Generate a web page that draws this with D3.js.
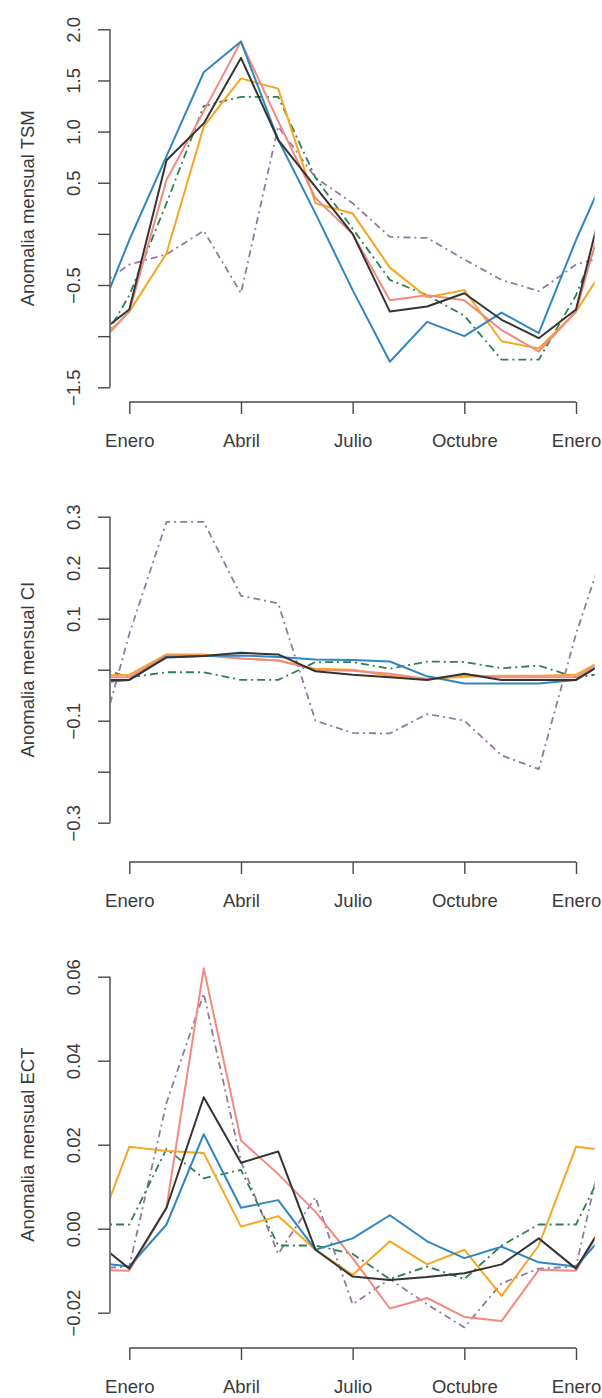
<!DOCTYPE html>
<html><head><meta charset="utf-8">
<script src="https://cdn.jsdelivr.net/npm/d3@7"></script>
<style>
html,body{margin:0;padding:0;background:#fff;}
svg text{font-family:"Liberation Sans",Arial,sans-serif;fill:#3a3a3a;}
</style></head>
<body><svg id="c" width="602" height="1398"></svg>
<script>
// months (x axis)
const monthTicks = [0, 3, 6, 9, 12];
const monthLabels = ["Enero", "Abril", "Julio", "Octubre", "Enero"];

// series names (Jan..Dec values, cyclic)
const seriesNames = ["purple", "green", "orange", "red", "blue", "black"];

// Panel 1: TSM
const tsmBlue   = [-0.06, 0.76, 1.58, 1.88, 0.92, 0.20, -0.55, -1.25, -0.86, -1.00, -0.77, -0.97];
const tsmRed    = [-0.76, 0.53, 1.20, 1.88, 1.10, 0.35, 0.00, -0.65, -0.60, -0.65, -0.94, -1.15];
const tsmOrange = [-0.76, -0.19, 1.05, 1.52, 1.42, 0.30, 0.20, -0.33, -0.62, -0.55, -1.05, -1.12];
const tsmBlack  = [-0.74, 0.72, 1.08, 1.72, 0.92, 0.46, 0.00, -0.76, -0.71, -0.58, -0.84, -1.02];
const tsmGreen  = [-0.60, 0.30, 1.25, 1.34, 1.34, 0.55, 0.05, -0.45, -0.60, -0.80, -1.23, -1.23];
const tsmPurple = [-0.30, -0.20, 0.03, -0.58, 1.05, 0.55, 0.30, -0.03, -0.04, -0.25, -0.45, -0.56];
const tsmTicks  = [-1.5, -1.0, -0.5, 0, 0.5, 1.0, 1.5, 2.0];
const tsmLabels = ["\u22121.5", "", "\u22120.5", "", "0.5", "1.0", "1.5", "2.0"];

// Panel 2: CI
const ciBlue   = [-0.020, 0.025, 0.027, 0.028, 0.025, 0.020, 0.019, 0.016, -0.013, -0.027, -0.027, -0.027];
const ciRed    = [-0.015, 0.028, 0.028, 0.022, 0.018, 0.000, -0.002, -0.008, -0.018, -0.010, -0.015, -0.015];
const ciOrange = [-0.010, 0.030, 0.030, 0.022, 0.018, 0.002, 0.000, -0.012, -0.018, -0.014, -0.012, -0.012];
const ciBlack  = [-0.020, 0.024, 0.027, 0.033, 0.030, -0.003, -0.010, -0.015, -0.020, -0.008, -0.020, -0.020];
const ciGreen  = [-0.015, -0.005, -0.005, -0.020, -0.020, 0.015, 0.015, 0.002, 0.016, 0.015, 0.003, 0.008];
const ciPurple = [0.070, 0.290, 0.290, 0.145, 0.130, -0.100, -0.124, -0.125, -0.087, -0.100, -0.168, -0.195];
const ciTicks  = [-0.3, -0.2, -0.1, 0, 0.1, 0.2, 0.3];
const ciLabels = ["\u22120.3", "", "\u22120.1", "", "0.1", "0.2", "0.3"];

// Panel 3: ECT
const ectBlue   = [-0.0090, 0.0010, 0.0225, 0.0050, 0.0068, -0.0050, -0.0023, 0.0032, -0.0030, -0.0070, -0.0043, -0.0080];
const ectRed    = [-0.0100, 0.0050, 0.0620, 0.0210, 0.0130, 0.0040, -0.0070, -0.0190, -0.0165, -0.0210, -0.0220, -0.0098];
const ectOrange = [0.0195, 0.0185, 0.0180, 0.0005, 0.0030, -0.0050, -0.0110, -0.0030, -0.0085, -0.0050, -0.0160, -0.0040];
const ectBlack  = [-0.0095, 0.0050, 0.0313, 0.0157, 0.0184, -0.0050, -0.0114, -0.0122, -0.0115, -0.0106, -0.0085, -0.0023];
const ectGreen  = [0.0010, 0.0190, 0.0120, 0.0140, -0.0040, -0.0040, -0.0060, -0.0120, -0.0090, -0.0120, -0.0040, 0.0010];
const ectPurple = [-0.0090, 0.0300, 0.0560, 0.0160, -0.0060, 0.0075, -0.0180, -0.0120, -0.0180, -0.0235, -0.0130, -0.0095];
const ectTicks  = [-0.02, 0, 0.02, 0.04, 0.06];
const ectLabels = ["\u22120.02", "0.00", "0.02", "0.04", "0.06"];

const titles = ["Anomalia mensual TSM", "Anomalia mensual CI", "Anomalia mensual ECT"];

// ---- styling / layout ----
const styles = {
  purple: {color: "#94789f", dash: "7,4,2,4", width: 1.8},
  green:  {color: "#2f7f52", dash: "2,4,8,4", width: 1.8},
  orange: {color: "#f5a623", dash: null, width: 2},
  red:    {color: "#f28a80", dash: null, width: 2},
  blue:   {color: "#2f86c0", dash: null, width: 2},
  black:  {color: "#343434", dash: null, width: 2}
};

const panels = [
  {data: {purple: tsmPurple, green: tsmGreen, orange: tsmOrange, red: tsmRed, blue: tsmBlue, black: tsmBlack},
   ticks: tsmTicks, labels: tsmLabels, yPix: [387.3, 29.3], axisY: 402, top: 0},
  {data: {purple: ciPurple, green: ciGreen, orange: ciOrange, red: ciRed, blue: ciBlue, black: ciBlack},
   ticks: ciTicks, labels: ciLabels, yPix: [822.7, 516.7], axisY: 862, top: 470},
  {data: {purple: ectPurple, green: ectGreen, orange: ectOrange, red: ectRed, blue: ectBlue, black: ectBlack},
   ticks: ectTicks, labels: ectLabels, yPix: [1312.7, 976.7], axisY: 1348, top: 935}
];

const svg = d3.select("#c");
const x = d3.scaleLinear().domain([0, 12]).range([129.3, 576]);
const leftX = x(-0.5), rightX = x(12.5);
const axisX = 110;
const tickLen = 12;
const fontSize = 18.5;
const axisColor = "#474747";

// extend cyclic monthly values: Dec(prev), Jan..Dec, Jan, Feb
function extend(vals) {
  const pts = [{m: -1, v: vals[11]}];
  vals.forEach((v, i) => pts.push({m: i, v: v}));
  pts.push({m: 12, v: vals[0]});
  pts.push({m: 13, v: vals[1]});
  return pts;
}

panels.forEach((p, pi) => {
  const lo = p.ticks[0], hi = p.ticks[p.ticks.length - 1];
  const y = d3.scaleLinear().domain([lo, hi]).range(p.yPix);
  const g = svg.append("g");

  const clipId = "clip" + pi;
  svg.append("clipPath").attr("id", clipId).append("rect")
    .attr("x", leftX).attr("y", p.top).attr("width", rightX - leftX).attr("height", p.axisY - p.top);

  const line = d3.line().x(d => x(d.m)).y(d => y(d.v));
  const lg = g.append("g").attr("clip-path", `url(#${clipId})`);
  seriesNames.forEach(name => {
    const st = styles[name];
    lg.append("path")
      .datum(extend(p.data[name]))
      .attr("d", line)
      .attr("fill", "none")
      .attr("stroke", st.color)
      .attr("stroke-width", st.width)
      .attr("stroke-linejoin", "round")
      .attr("stroke-dasharray", st.dash);
  });

  // y axis
  const yAxis = d3.axisLeft(y).tickValues(p.ticks).tickSize(tickLen).tickSizeOuter(0)
    .tickFormat((d, i) => p.labels[i]);
  const ya = g.append("g").attr("transform", `translate(${axisX},0)`).call(yAxis);
  ya.select(".domain").attr("stroke", axisColor).attr("stroke-width", 1.4)
    .attr("d", `M0,${y(lo)}V${y(hi)}`);
  ya.selectAll(".tick line").attr("stroke", axisColor).attr("stroke-width", 1.4);
  ya.selectAll(".tick text")
    .attr("x", 0).attr("dy", null).attr("y", 0)
    .attr("transform", `translate(-37,0) rotate(-90)`)
    .attr("text-anchor", "middle")
    .attr("dominant-baseline", "central")
    .style("font-size", fontSize + "px")
    .style("font-family", "'Liberation Sans', Arial, sans-serif")
    .attr("fill", "#3a3a3a");

  // x axis
  const xAxis = d3.axisBottom(x).tickValues(monthTicks).tickSize(tickLen).tickSizeOuter(0)
    .tickFormat((d, i) => monthLabels[i]);
  const xa = g.append("g").attr("transform", `translate(0,${p.axisY})`).call(xAxis);
  xa.select(".domain").attr("stroke", axisColor).attr("stroke-width", 1.4)
    .attr("d", `M${x(0)},0H${x(12)}`);
  xa.selectAll(".tick line").attr("stroke", axisColor).attr("stroke-width", 1.4);
  xa.selectAll(".tick text")
    .attr("y", 38).attr("dy", null)
    .attr("dominant-baseline", "central")
    .style("font-size", fontSize + "px")
    .style("font-family", "'Liberation Sans', Arial, sans-serif")
    .attr("fill", "#3a3a3a");

  // title
  const cy = (y(lo) + y(hi)) / 2;
  g.append("text")
    .attr("transform", `translate(27,${cy}) rotate(-90)`)
    .attr("text-anchor", "middle")
    .attr("dominant-baseline", "central")
    .style("font-size", fontSize + "px")
    .text(titles[pi]);
});
</script></body></html>
